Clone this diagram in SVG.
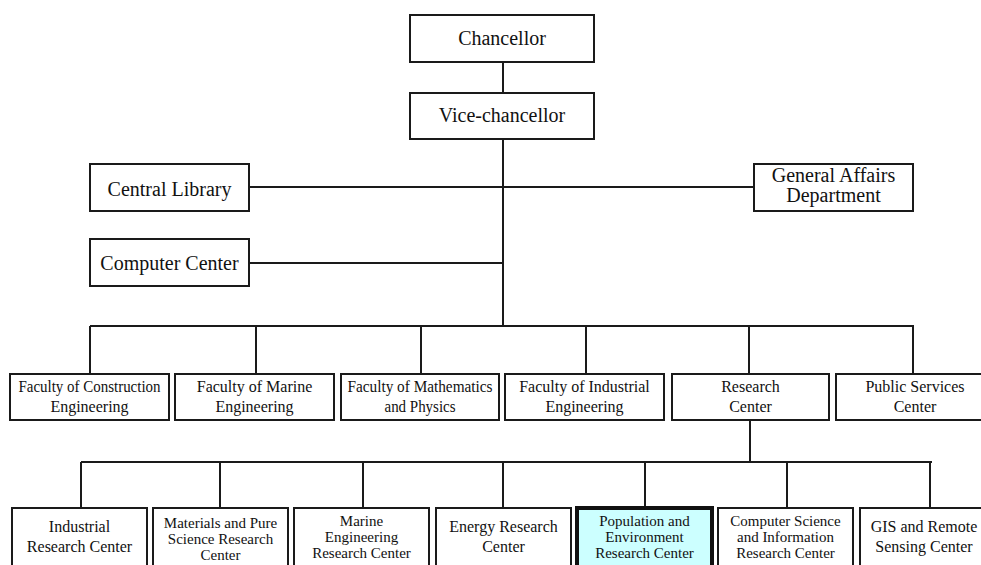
<svg xmlns="http://www.w3.org/2000/svg" width="981" height="565" viewBox="0 0 981 565">
<style>
.box{fill:#fff;stroke:#1a1a1a;stroke-width:2}
.hl{fill:#ccffff;stroke:#111;stroke-width:4}
.ln{fill:none;stroke:#1a1a1a;stroke-width:2}
text{font-family:"Liberation Serif","Times New Roman",serif;fill:#111;text-anchor:middle}
.t20{font-size:20px}
.t16{font-size:16px}
.t15{font-size:15px}
</style>
<rect width="981" height="565" fill="#fff"/>
<g id="connectors" class="ln">
<path d="M503 62V93M503 139V326M249 187H754M249 263H503"/>
<path d="M90 326H914M90 326V374M256 326V374M421 326V374M586 326V374M749 326V374M913 326V374"/>
<path d="M750 420V462M81 462H932M81 462V508M220 462V508M363 462V508M503 462V508M645 462V508M787 462V508M930 462V508"/>
</g>
<g id="chancellor"><rect class="box" x="410" y="15" width="184" height="47"/><text class="t20" x="502" y="45">Chancellor</text></g>
<g id="vice-chancellor"><rect class="box" x="410" y="93" width="184" height="46"/><text class="t20" x="502" y="122">Vice-chancellor</text></g>
<g id="central-library"><rect class="box" x="90" y="164" width="159" height="47"/><text class="t20" x="169.5" y="196">Central Library</text></g>
<g id="computer-center"><rect class="box" x="90" y="239" width="159" height="47"/><text class="t20" x="169.5" y="270">Computer Center</text></g>
<g id="general-affairs"><rect class="box" x="754" y="164" width="159" height="47"/><text class="t20" x="833.5" y="182">General Affairs</text><text class="t20" x="833.5" y="202">Department</text></g>
<g id="fac-construction"><rect class="box" x="10" y="374" width="159" height="46"/><text class="t16" x="89.5" y="392" textLength="142" lengthAdjust="spacingAndGlyphs">Faculty of Construction</text><text class="t16" x="89.5" y="412">Engineering</text></g>
<g id="fac-marine"><rect class="box" x="175" y="374" width="159" height="46"/><text class="t16" x="254.5" y="392">Faculty of Marine</text><text class="t16" x="254.5" y="412">Engineering</text></g>
<g id="fac-math"><rect class="box" x="341" y="374" width="158" height="46"/><text class="t16" x="420" y="392" textLength="145" lengthAdjust="spacingAndGlyphs">Faculty of Mathematics</text><text class="t16" x="420" y="412" textLength="71" lengthAdjust="spacingAndGlyphs">and Physics</text></g>
<g id="fac-industrial"><rect class="box" x="505" y="374" width="159" height="46"/><text class="t16" x="584.5" y="392">Faculty of Industrial</text><text class="t16" x="584.5" y="412">Engineering</text></g>
<g id="research-center"><rect class="box" x="672" y="374" width="157" height="46"/><text class="t16" x="750.5" y="392">Research</text><text class="t16" x="750.5" y="412">Center</text></g>
<g id="public-services"><rect class="box" x="836" y="374" width="159" height="46"/><text class="t16" x="915" y="392">Public Services</text><text class="t16" x="915" y="412">Center</text></g>
<g id="industrial-rc"><rect class="box" x="12" y="508" width="135" height="70"/><text class="t16" x="79.5" y="532">Industrial</text><text class="t16" x="79.5" y="552">Research Center</text></g>
<g id="materials-rc"><rect class="box" x="153" y="508" width="135" height="70"/><text class="t15" x="220.5" y="528">Materials and Pure</text><text class="t15" x="220.5" y="544">Science Research</text><text class="t15" x="220.5" y="560">Center</text></g>
<g id="marine-rc"><rect class="box" x="294" y="508" width="135" height="70"/><text class="t15" x="361.5" y="526">Marine</text><text class="t15" x="361.5" y="542">Engineering</text><text class="t15" x="361.5" y="558">Research Center</text></g>
<g id="energy-rc"><rect class="box" x="436" y="508" width="135" height="70"/><text class="t16" x="503.5" y="532">Energy Research</text><text class="t16" x="503.5" y="552">Center</text></g>
<g id="population-rc"><rect class="hl" x="577" y="508" width="135" height="70"/><text class="t15" x="644.5" y="526">Population and</text><text class="t15" x="644.5" y="542">Environment</text><text class="t15" x="644.5" y="558">Research Center</text></g>
<g id="cs-rc"><rect class="box" x="718" y="508" width="135" height="70"/><text class="t15" x="785.5" y="526">Computer Science</text><text class="t15" x="785.5" y="542">and Information</text><text class="t15" x="785.5" y="558">Research Center</text></g>
<g id="gis-rc"><rect class="box" x="860" y="508" width="135" height="70"/><text class="t16" x="924" y="532">GIS and Remote</text><text class="t16" x="924" y="552">Sensing Center</text></g>
</svg>
